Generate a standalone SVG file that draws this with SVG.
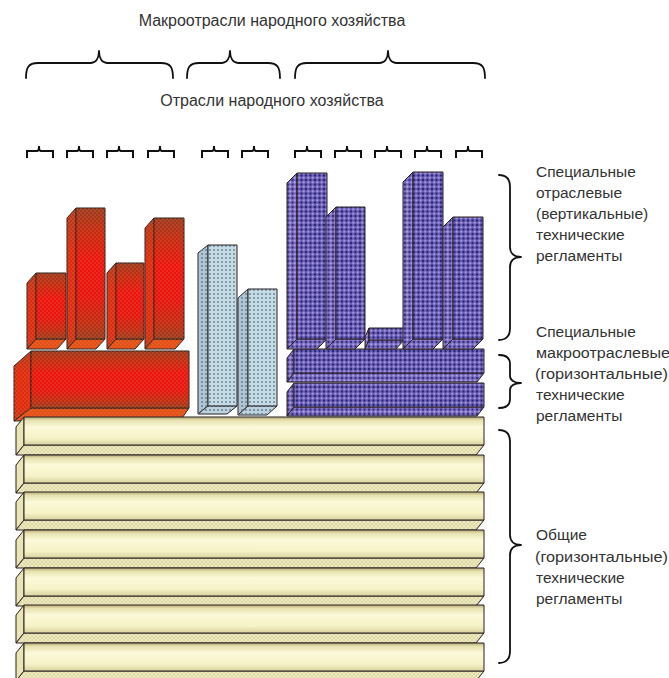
<svg xmlns="http://www.w3.org/2000/svg" width="669" height="678" viewBox="0 0 669 678">
<style>
.lbl{font-family:"Liberation Sans",Arial,sans-serif;fill:#333;}
.t16{font-size:16px;}
.t14{font-size:15.5px;}
.brace{fill:none;stroke:#111;stroke-width:1.8;stroke-linecap:round;stroke-linejoin:round;}
.sb{fill:none;stroke:#111;stroke-width:2;stroke-linejoin:miter;}
.e{stroke:#2a2020;stroke-width:1;stroke-linejoin:round;}
.rf{fill:url(#gRed);}
.rs{fill:url(#gRedSide);}
.rb{fill:#e4501c;}
.rd{fill:url(#pRed);stroke:none;}
.bf{fill:url(#pBlue);}
.bs{fill:#b0c7d3;}
.bb{fill:#bdd2dc;}
.bd{fill:url(#pBlueD);stroke:none;}
.pf{fill:url(#pPur);}
.ps{fill:url(#pPurS);}
.yf{fill:url(#gYel);}
.ys{fill:#e9e5b4;}
.yb{fill:url(#pYel);}
</style>
<defs>
<linearGradient id="gRed" x1="0" y1="0" x2="0" y2="1">
<stop offset="0" stop-color="#983a24"/>
<stop offset="0.18" stop-color="#c42a16"/>
<stop offset="0.4" stop-color="#ec1313"/>
<stop offset="0.68" stop-color="#e61414"/>
<stop offset="0.88" stop-color="#bf2c18"/>
<stop offset="1" stop-color="#963c24"/>
</linearGradient>
<linearGradient id="gRedSide" x1="0" y1="0" x2="0" y2="1">
<stop offset="0" stop-color="#b03a20"/>
<stop offset="0.3" stop-color="#e02a14"/>
<stop offset="0.8" stop-color="#e02a14"/>
<stop offset="1" stop-color="#c03a1c"/>
</linearGradient>
<linearGradient id="gYel" x1="0" y1="0" x2="0" y2="1">
<stop offset="0" stop-color="#b3aa78"/>
<stop offset="0.12" stop-color="#e6e2b0"/>
<stop offset="0.35" stop-color="#fbf9d8"/>
<stop offset="0.75" stop-color="#f6f3c8"/>
<stop offset="1" stop-color="#d8d29e"/>
</linearGradient>
<pattern id="pRed" width="4" height="4" patternUnits="userSpaceOnUse">
<circle cx="1" cy="1" r="0.7" fill="#f08a30" opacity="0.55"/>
<circle cx="3" cy="3" r="0.7" fill="#f08a30" opacity="0.55"/>
</pattern>
<pattern id="pBlue" width="4" height="4" patternUnits="userSpaceOnUse">
<rect width="4" height="4" fill="#c6dbe4"/>
<circle cx="2" cy="2" r="1" fill="#6a88a0"/>
</pattern>
<pattern id="pBlueD" width="4" height="4" patternUnits="userSpaceOnUse">
<circle cx="2" cy="2" r="1" fill="#62809a"/>
</pattern>
<pattern id="pPur" width="4.5" height="4.5" patternUnits="userSpaceOnUse">
<rect width="4.5" height="4.5" fill="#6c5eb7"/>
<circle cx="2.25" cy="2.25" r="0.95" fill="#c2b6ee"/>
<circle cx="0" cy="0" r="1.1" fill="#22226e"/>
<circle cx="4.5" cy="0" r="1.1" fill="#22226e"/>
<circle cx="0" cy="4.5" r="1.1" fill="#22226e"/>
<circle cx="4.5" cy="4.5" r="1.1" fill="#22226e"/>
</pattern>
<pattern id="pPurS" width="4.5" height="4.5" patternUnits="userSpaceOnUse">
<rect width="4.5" height="4.5" fill="#7a6abf"/>
<circle cx="2.25" cy="2.25" r="0.95" fill="#c8bdf0"/>
<circle cx="0" cy="0" r="1.1" fill="#2e2c7a"/>
<circle cx="4.5" cy="0" r="1.1" fill="#2e2c7a"/>
<circle cx="0" cy="4.5" r="1.1" fill="#2e2c7a"/>
<circle cx="4.5" cy="4.5" r="1.1" fill="#2e2c7a"/>
</pattern>
<pattern id="pYel" width="4" height="4" patternUnits="userSpaceOnUse">
<rect width="4" height="4" fill="#efebbd"/>
<path d="M0,0 L4,4 M4,0 L0,4" stroke="#c9c49a" stroke-width="0.5"/>
</pattern>
</defs>
<rect width="669" height="678" fill="#fff"/>

<g id="title-macro">
<text class="lbl t16" x="272" y="26" text-anchor="middle">Макроотрасли народного хозяйства</text>
</g>
<g id="macro-braces">
<path class="brace" d="M26,78 C26,68 28,63 38,63 L91,63 C96,63 99,58 99,51 C99,58 102,63 107,63 L161,63 C171,63 173,68 173,78"/>
<path class="brace" d="M187,78 C187,68 189,63 199,63 L222,63 C227,63 230,58 230,51 C230,58 233,63 238,63 L268,63 C278,63 280,68 280,78"/>
<path class="brace" d="M295,78 C295,68 297,63 307,63 L380,63 C385,63 388,58 388,51 C388,58 391,63 396,63 L473,63 C483,63 485,68 485,78"/>
</g>
<g id="title-branch">
<text class="lbl t16" x="272" y="106" text-anchor="middle">Отрасли народного хозяйства</text>
</g>
<g id="branch-braces">
<path class="sb" d="M27,158 L27,151 L37,151 Q39,151 39,146 Q39,151 41,151 L53,151 L53,158"/>
<path class="sb" d="M67,158 L67,151 L77,151 Q79,151 79,146 Q79,151 81,151 L93,151 L93,158"/>
<path class="sb" d="M107,158 L107,151 L117,151 Q119,151 119,146 Q119,151 121,151 L133,151 L133,158"/>
<path class="sb" d="M148,158 L148,151 L158,151 Q160,151 160,146 Q160,151 162,151 L174,151 L174,158"/>
<path class="sb" d="M202,158 L202,151 L212,151 Q214,151 214,146 Q214,151 216,151 L228,151 L228,158"/>
<path class="sb" d="M242,158 L242,151 L252,151 Q254,151 254,146 Q254,151 256,151 L268,151 L268,158"/>
<path class="sb" d="M295,158 L295,151 L305,151 Q307,151 307,146 Q307,151 309,151 L321,151 L321,158"/>
<path class="sb" d="M335,158 L335,151 L345,151 Q347,151 347,146 Q347,151 349,151 L361,151 L361,158"/>
<path class="sb" d="M375,158 L375,151 L385,151 Q387,151 387,146 Q387,151 389,151 L401,151 L401,158"/>
<path class="sb" d="M415,158 L415,151 L425,151 Q427,151 427,146 Q427,151 429,151 L441,151 L441,158"/>
<path class="sb" d="M456,158 L456,151 L466,151 Q468,151 468,146 Q468,151 470,151 L482,151 L482,158"/>
</g>

<g id="red-block">
<polygon class="rs e" points="31,351 31,408 14,421 14,366"/>
<polygon class="rb e" points="31,408 189,408 182,418 14,421"/>
<rect class="rf e" x="31" y="351" width="158" height="57"/>
<rect class="rd" x="31" y="351" width="158" height="57"/>
<polygon class="rd" points="31,351 31,408 14,421 14,366"/>
<polygon class="rd" points="31,408 189,408 182,418 14,421"/>

<polygon class="rs e" points="36,273 36,339 27,349 27,283"/>
<polygon class="rb e" points="36,339 66,339 57,349 27,349"/>
<rect class="rf e" x="36" y="273" width="30" height="66"/>
<polygon class="rs e" points="76,208 76,339 67,349 67,218"/>
<polygon class="rb e" points="76,339 105,339 96,349 67,349"/>
<rect class="rf e" x="76" y="208" width="29" height="131"/>
<polygon class="rs e" points="116,263 116,339 107,349 107,273"/>
<polygon class="rb e" points="116,339 144,339 135,349 107,349"/>
<rect class="rf e" x="116" y="263" width="28" height="76"/>
<polygon class="rs e" points="154,218 154,339 145,349 145,228"/>
<polygon class="rb e" points="154,339 184,339 175,349 145,349"/>
<rect class="rf e" x="154" y="218" width="30" height="121"/>
<polygon class="rd" points="36,273 66,273 66,339 57,349 27,349 27,283"/>
<polygon class="rd" points="76,208 105,208 105,339 96,349 67,349 67,218"/>
<polygon class="rd" points="116,263 144,263 144,339 135,349 107,349 107,273"/>
<polygon class="rd" points="154,218 184,218 184,339 175,349 145,349 145,228"/>
</g>

<g id="blue-block">
<polygon class="bs e" points="208,245 208,406 198,414 198,253"/>
<polygon class="bb e" points="208,406 237,406 227,414 198,414"/>
<rect class="bf e" x="208" y="245" width="29" height="161"/>
<polygon class="bs e" points="248,289 248,406 238,415 238,298"/>
<polygon class="bb e" points="248,406 277,406 267,415 238,415"/>
<rect class="bf e" x="248" y="289" width="29" height="117"/>
<polygon class="bd" points="208,245 208,406 198,414 198,253"/>
<polygon class="bd" points="248,289 248,406 238,415 238,298"/>
<polygon class="bd" points="208,406 237,406 227,414 198,414"/>
<polygon class="bd" points="248,406 277,406 267,415 238,415"/>
</g>

<g id="purple-block">
<polygon class="ps e" points="294,349 294,373 287,382 287,358"/>
<polygon class="ps e" points="294,373 484,373 477,382 287,382"/>
<rect class="pf e" x="294" y="349" width="190" height="24"/>
<polygon class="ps e" points="294,383 294,407 287,416 287,392"/>
<polygon class="ps e" points="294,407 484,407 477,416 287,416"/>
<rect class="pf e" x="294" y="383" width="190" height="24"/>

<polygon class="ps e" points="297,173 297,339 287,349 287,183"/>
<polygon class="ps e" points="297,339 327,339 317,349 287,349"/>
<rect class="pf e" x="297" y="173" width="30" height="166"/>
<polygon class="ps e" points="336,207 336,339 326,349 326,217"/>
<polygon class="ps e" points="336,339 365,339 355,349 326,349"/>
<rect class="pf e" x="336" y="207" width="29" height="132"/>
<polygon class="ps e" points="369,328 369,340 365,349 365,337"/>
<polygon class="ps e" points="369,340 404,340 396,349 365,349"/>
<rect class="pf e" x="369" y="328" width="35" height="12"/>
<polygon class="ps e" points="413,172 413,339 403,349 403,182"/>
<polygon class="ps e" points="413,339 443,339 433,349 403,349"/>
<rect class="pf e" x="413" y="172" width="30" height="167"/>
<polygon class="ps e" points="453,217 453,339 443,349 443,227"/>
<polygon class="ps e" points="453,339 483,339 473,349 443,349"/>
<rect class="pf e" x="453" y="217" width="30" height="122"/>
</g>

<g id="yellow-block">
<polygon class="ys e" points="24,417 24,445 16,455 16,427"/>
<polygon class="yb e" points="24,445 484,445 476,455 16,455"/>
<rect class="yf e" x="24" y="417" width="460" height="28"/>
<polygon class="ys e" points="24,455 24,483 16,493 16,465"/>
<polygon class="yb e" points="24,483 484,483 476,493 16,493"/>
<rect class="yf e" x="24" y="455" width="460" height="28"/>
<polygon class="ys e" points="24,492 24,520 16,530 16,502"/>
<polygon class="yb e" points="24,520 484,520 476,530 16,530"/>
<rect class="yf e" x="24" y="492" width="460" height="28"/>
<polygon class="ys e" points="24,530 24,558 16,568 16,540"/>
<polygon class="yb e" points="24,558 484,558 476,568 16,568"/>
<rect class="yf e" x="24" y="530" width="460" height="28"/>
<polygon class="ys e" points="24,568 24,596 16,606 16,578"/>
<polygon class="yb e" points="24,596 484,596 476,606 16,606"/>
<rect class="yf e" x="24" y="568" width="460" height="28"/>
<polygon class="ys e" points="24,605 24,633 16,643 16,615"/>
<polygon class="yb e" points="24,633 484,633 476,643 16,643"/>
<rect class="yf e" x="24" y="605" width="460" height="28"/>
<polygon class="ys e" points="24,643 24,671 16,681 16,653"/>
<polygon class="yb e" points="24,671 484,671 476,681 16,681"/>
<rect class="yf e" x="24" y="643" width="460" height="28"/>
</g>

<g id="level-braces">
<path class="brace" d="M499,175 C507,175 510,179 510,187 L510,247 C510,253 514,257 521,257 C514,257 510,261 510,267 L510,328 C510,336 507,340 499,340"/>
<path class="brace" d="M499,355 C507,355 510,358 510,364 L510,376 C510,380 514,383 521,383 C514,383 510,386 510,390 L510,399 C510,405 507,408 499,408"/>
<path class="brace" d="M499,430 C507,430 510,434 510,442 L510,535 C510,541 514,545 521,545 C514,545 510,549 510,555 L510,651 C510,659 507,663 499,663"/>
</g>
<g id="label-vertical">
<text class="lbl t14"><tspan x="536" y="177">Специальные</tspan><tspan x="536" y="198">отраслевые</tspan><tspan x="536" y="219">(вертикальные)</tspan><tspan x="536" y="240">технические</tspan><tspan x="536" y="261">регламенты</tspan></text>
</g>
<g id="label-macro">
<text class="lbl t14"><tspan x="536" y="337">Специальные</tspan></text>
<text class="lbl t14" x="536" y="358" textLength="134" lengthAdjust="spacingAndGlyphs">макроотраслевые</text>
<text class="lbl t14" x="535" y="379" textLength="133" lengthAdjust="spacingAndGlyphs">(горизонтальные)</text>
<text class="lbl t14"><tspan x="536" y="400">технические</tspan><tspan x="536" y="421">регламенты</tspan></text>
</g>
<g id="label-general">
<text class="lbl t14" x="536" y="540">Общие</text>
<text class="lbl t14" x="535" y="562" textLength="133" lengthAdjust="spacingAndGlyphs">(горизонтальные)</text>
<text class="lbl t14"><tspan x="536" y="583">технические</tspan><tspan x="536" y="604">регламенты</tspan></text>
</g>
</svg>
